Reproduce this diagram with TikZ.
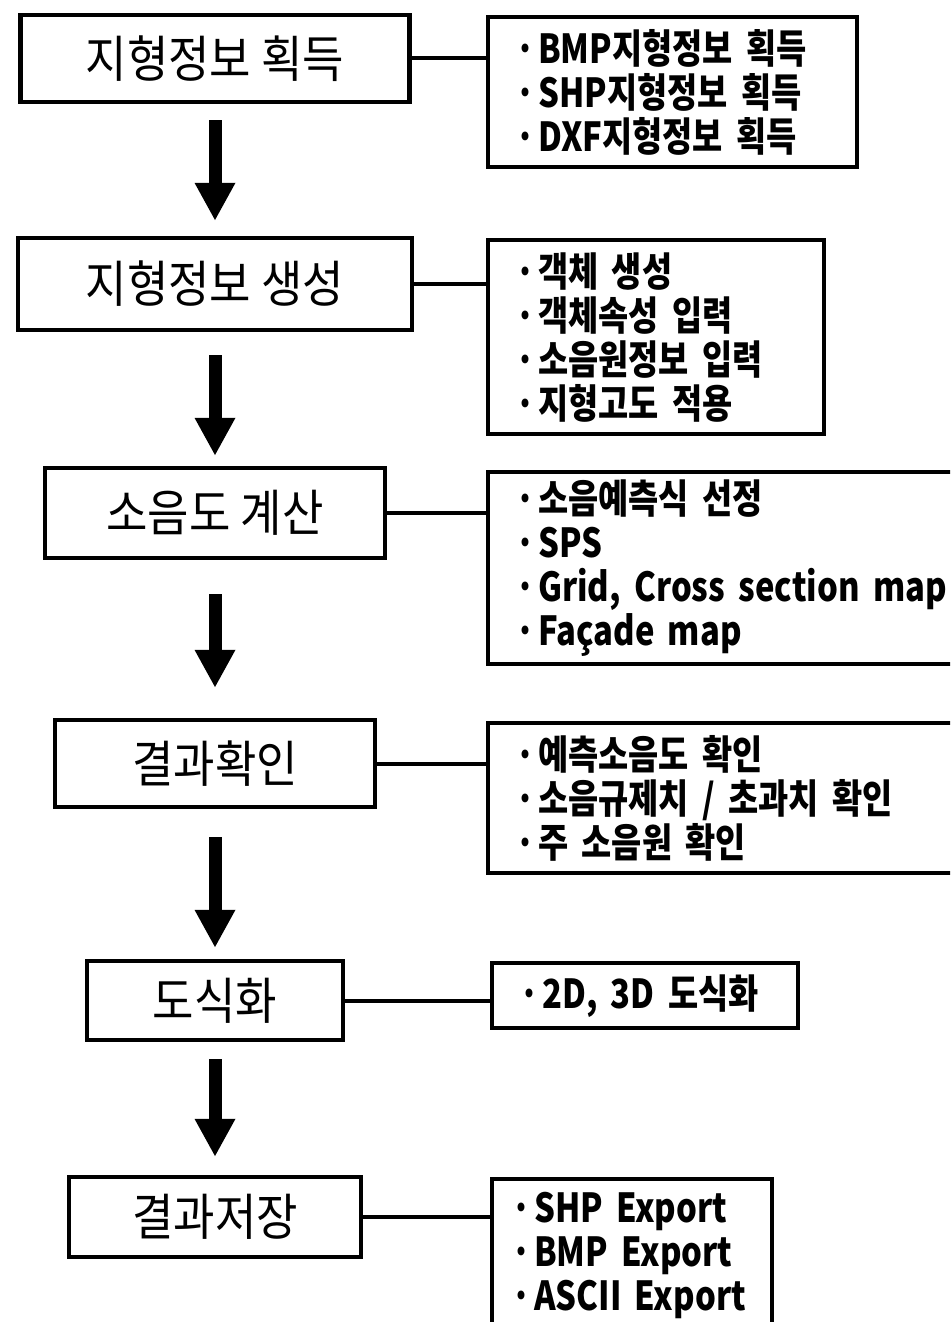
\documentclass[tikz,border=0pt]{standalone}
\usepackage{fontspec}
\newfontfamily\kr{Noto Sans CJK KR}[FakeStretch=0.9]
\newfontfamily\krlist{Noto Sans CJK KR}[FakeStretch=0.82]
\usetikzlibrary{arrows.meta}
\newcommand\itm{\makebox[13pt][c]{·}}

\begin{document}
\begin{tikzpicture}[x=0.5pt,y=-0.5pt,
    stage box/.style={draw,line width=2.2pt,inner sep=0pt,
                      font=\kr\fontsize{25}{28}\selectfont},
    list box/.style={draw,line width=2.2pt,anchor=north west,align=left,
                     inner xsep=12pt,inner ysep=0pt,
                     font=\krlist\bfseries\fontsize{20}{22}\selectfont},
    link/.style={line width=2pt}]
  \useasboundingbox (0,0) rectangle (950,1322);
  \clip (0,0) rectangle (950,1322);
  % process steps
  \node[stage box,minimum width=194.5pt,minimum height=43.5pt] (get)  at (215,58.5)  {지형정보 획득};
  \node[stage box,minimum width=197pt,minimum height=46pt]     (make) at (215,284)   {지형정보 생성};
  \node[stage box,minimum width=170pt,minimum height=45pt]     (calc) at (215,513)   {소음도 계산};
  \node[stage box,minimum width=160pt,minimum height=43.5pt]   (check) at (215,763.5) {결과확인};
  \node[stage box,minimum width=128pt,minimum height=39.5pt]   (plot) at (215,1000.5) {도식화};
  \node[stage box,minimum width=146pt,minimum height=40pt]     (save) at (215,1217)  {결과저장};
  % details
  \node[list box,text width=160.5pt,minimum height=75pt] (getlist) at (486,15)
    {\itm BMP지형정보 획득\\\itm SHP지형정보 획득\\\itm DXF지형정보 획득};
  \node[list box,text width=144pt,minimum height=97pt] (makelist) at (486,238)
    {\itm 객체 생성\\\itm 객체속성 입력\\\itm 소음원정보 입력\\\itm 지형고도 적용};
  \node[list box,text width=233pt,minimum height=96pt] (calclist) at (486,470)
    {\itm 소음예측식 선정\\\itm SPS\\\itm Grid, Cross section map\\\itm Façade map};
  \node[list box,text width=233pt,minimum height=75pt] (checklist) at (486,721)
    {\itm 예측소음도 확인\\\itm 소음규제치 / 초과치 확인\\\itm 주 소음원 확인};
  \node[list box,text width=129pt,minimum height=32.5pt] (plotlist) at (490,961)
    {\itm 2D, 3D 도식화};
  \node[list box,inner xsep=8pt,text width=124pt,minimum height=76pt] (savelist) at (490,1177)
    {\itm SHP Export\\\itm BMP Export\\\itm ASCII Export};
  \path[every edge/.style={draw,line width=6.5pt,-{Triangle[width=19pt,length=19pt]}}]
    (get)   edge[shorten <=8pt,shorten >=7.5pt] (make)
    (make)  edge[shorten <=11.5pt,shorten >=5pt] (calc)
    (calc)  edge[shorten <=17pt,shorten >=15pt] (check)
    (check) edge[shorten <=14pt,shorten >=5.5pt] (plot)
    (plot)  edge[shorten <=8.5pt,shorten >=9pt] (save);
  \foreach \s in {get,make,calc,check,plot,save}
    \draw[link] (\s.east) -- (\s.east -| \s list.west);
\end{tikzpicture}
\end{document}
